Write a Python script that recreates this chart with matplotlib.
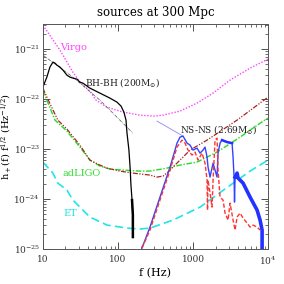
import numpy as np
import matplotlib
matplotlib.use("Agg")
import matplotlib.pyplot as plt
from matplotlib.ticker import LogLocator, NullFormatter

# frequencies in Hz, amplitudes as log10(h~ f^1/2 [Hz^-1/2])
virgo_f = [10, 16.9, 25.1, 31.1, 42.3, 51, 71, 117, 196, 300, 400, 670, 1130, 1850, 3110, 5750, 10000]
virgo_logh = [-20.52, -21.02, -21.46, -21.66, -21.84, -22.02, -22.16, -22.26, -22.32, -22.34,
              -22.32, -22.24, -22.08, -21.88, -21.62, -21.38, -21.2]

adligo_f = [10, 11.3, 14.5, 20.9, 31.1, 42.3, 57.5, 78.2, 117, 196, 267, 450, 671, 1130, 2089, 4233, 8577, 10000]
adligo_logh = [-21.82, -22.02, -22.42, -22.64, -22.96, -23.22, -23.34, -23.40, -23.42, -23.44,
               -23.44, -23.38, -23.32, -23.26, -23.06, -22.76, -22.44, -22.38]

hf_f = [10, 11.3, 15.8, 20.9, 31.1, 42.3, 57.5, 71.3, 106, 158, 267, 331, 398, 464, 575, 912, 1538, 3862, 10000]
hf_logh = [-21.78, -21.96, -22.42, -22.60, -22.92, -23.22, -23.32, -23.38, -23.44, -23.48,
           -23.52, -23.56, -23.54, -23.46, -23.32, -23.02, -22.82, -22.42, -21.96]

et_f = [10, 13.6, 15.8, 20.9, 25.1, 42.3, 71.3, 132, 196, 267, 541, 1240, 2438, 5754, 10000]
et_logh = [-23.26, -23.48, -23.68, -23.82, -24.02, -24.36, -24.52, -24.58, -24.60, -24.58,
           -24.42, -24.16, -23.84, -23.44, -23.22]

bhbh_f = [10, 11.3, 12.4, 13.6, 14.5, 15.4, 16.9, 18.5, 20.9, 22.9, 25.1, 28.4, 31.1, 34.1,
          42.3, 57.5, 78.2, 97, 110, 120, 128, 132, 140, 145, 149, 154, 158, 158]
bhbh_logh = [-21.76, -21.56, -21.36, -21.26, -21.28, -21.32, -21.36, -21.42, -21.52, -21.56,
             -21.58, -21.60, -21.66, -21.68, -21.78, -21.88, -21.98, -22.06, -22.14, -22.26,
             -22.42, -22.68, -23.02, -23.36, -23.72, -24.02, -24.32, -24.76]

bhbh_insp_f = [10, 25.1, 57.5, 158]
bhbh_insp_logh = [-21.12, -21.56, -22.02, -22.68]

nsns_insp_f = [331, 736]
nsns_insp_logh = [-22.44, -22.74]

nsns_a_f = [209, 267, 363, 494, 612, 671, 736, 832, 912, 1000, 1130, 1240, 1359, 1445, 1538,
            1585, 1686, 1849, 2089, 2154, 2291, 2438, 2840, 3311, 3415, 3521, 3570, 3631, 3862,
            3981, 4642, 5754, 7129, 7817, 8318, 8318]
nsns_a_logh = [-24.98, -24.56, -23.96, -23.36, -22.88, -22.76, -22.74, -22.88, -22.92, -23.02,
               -22.98, -23.08, -23.02, -22.96, -23.16, -23.36, -23.56, -23.28, -23.56, -23.08,
               -22.88, -22.82, -22.86, -22.88, -23.16, -23.56, -24.06, -23.56, -23.48, -23.58,
               -23.68, -23.96, -24.22, -24.42, -24.62, -24.98]

nsns_b_f = [209, 267, 363, 494, 612, 713, 782, 858, 970, 1064, 1166, 1318, 1445, 1538, 1560,
            1585, 1686, 1792, 1849, 1965, 2089, 2154, 2291, 2512, 2671, 2929, 3113, 3415, 3631,
            3862, 4233, 4642, 5248, 5754, 6310, 7129, 7817]
nsns_b_logh = [-24.98, -24.62, -24.02, -23.42, -22.96, -22.82, -22.88, -23.02, -23.12, -23.06,
               -23.22, -23.08, -23.28, -23.62, -24.22, -23.62, -23.88, -24.16, -23.62, -22.82,
               -22.78, -23.42, -23.96, -24.02, -24.28, -24.42, -24.08, -24.42, -24.62, -24.36,
               -24.28, -24.38, -24.48, -24.56, -24.52, -24.56, -24.62]

xticks = [10, 100, 1000, 10000]
xticklabels = ["10", "100", "1000", r"$10^4$"]
yticks = [1e-25, 1e-24, 1e-23, 1e-22, 1e-21]


def h(v):
    return 10.0 ** np.asarray(v)


plt.rcParams["font.family"] = "DejaVu Serif"
plt.rcParams["mathtext.fontset"] = "dejavuserif"

fig = plt.figure(figsize=(2.84, 2.84), dpi=100)
ax = fig.add_axes([0.151, 0.123, 0.793, 0.792])

ax.plot(virgo_f, h(virgo_logh), color="#ff44ff", lw=1.0, ls=(0, (1, 1.2)))
ax.plot(adligo_f, h(adligo_logh), color="#22dd22", lw=1.0, ls=(0, (4, 1.2, 1, 1.2)))
ax.plot(hf_f, h(hf_logh), color="#aa2222", lw=0.9, ls=(0, (4, 1.2, 1, 1.2, 1, 1.2)))
ax.plot(et_f, h(et_logh), color="#22e5e5", lw=1.2, ls=(0, (5, 2.5)))

ax.plot(bhbh_insp_f, h(bhbh_insp_logh), color="#555555", lw=0.5, ls=(0, (5, 1.5, 1, 1.5)))
ax.plot(bhbh_f, h(bhbh_logh), color="black", lw=0.9)
tail = np.asarray(bhbh_f) >= 154
ax.plot(np.asarray(bhbh_f)[tail], h(np.asarray(bhbh_logh)[tail]), color="black", lw=1.8)

ax.plot(nsns_insp_f, h(nsns_insp_logh), color="#8888ff", lw=0.6)
nf = np.asarray(nsns_a_f)
nh = np.asarray(nsns_a_logh)
ax.plot(nf, h(nh), color="#3344ff", lw=1.0)
top = (nf >= 2400) & (nf <= 3311)
ax.plot(nf[top], h(nh[top]), color="#2233ff", lw=1.8)
thick = nf >= 3600
ax.plot(nf[thick], h(nh[thick]), color="#2233ff", lw=2.6)
ax.plot(nsns_b_f, h(nsns_b_logh), color="#ff3333", lw=1.0, ls=(0, (3, 1.5)))

ax.text(16.9, 1.1e-21, "Virgo", color="#ff44ff", fontsize=7, va="center")
ax.text(36.3, 2.2e-22, r"BH-BH (200M$_{\odot}$)", color="#222222", fontsize=6.5, va="center")
ax.text(18.5, 3.3e-24, "adLIGO", color="#33dd33", fontsize=7, va="center")
ax.text(18.5, 5.2e-25, "ET", color="#22e5e5", fontsize=7, va="center")
ax.text(671, 2.5e-23, r"NS-NS (2.69M$_{\odot}$)", color="#222222", fontsize=6.5, va="center")

ax.set_xscale("log")
ax.set_yscale("log")
ax.set_xlim(10, 10000)
ax.set_ylim(1e-25, 10 ** -20.5)
ax.set_xticks(xticks)
ax.set_xticklabels(xticklabels)
ax.set_yticks(yticks)
ax.xaxis.set_minor_formatter(NullFormatter())
ax.yaxis.set_minor_locator(LogLocator(base=10, subs=np.arange(2, 10), numticks=20))
ax.yaxis.set_minor_formatter(NullFormatter())
ax.tick_params(which="both", direction="in", top=True, right=True, labelsize=6.5, colors="#333333", pad=2)
ax.tick_params(axis="x", which="major", pad=4)
ax.tick_params(which="major", length=5, width=0.6)
ax.tick_params(which="minor", length=2.5, width=0.5)
for s in ax.spines.values():
    s.set_linewidth(0.7)
    s.set_color("#555555")

ax.set_title("sources at 300 Mpc", fontsize=8.5, pad=6)
ax.set_xlabel("f (Hz)", fontsize=8, labelpad=1)
ax.set_ylabel(r"$\tilde{\mathrm{h}}_+(\mathrm{f})\ \mathrm{f}^{1/2}\ (\mathrm{Hz}^{-1/2})$", fontsize=7, labelpad=0)

fig.savefig("out.png", dpi=100)
